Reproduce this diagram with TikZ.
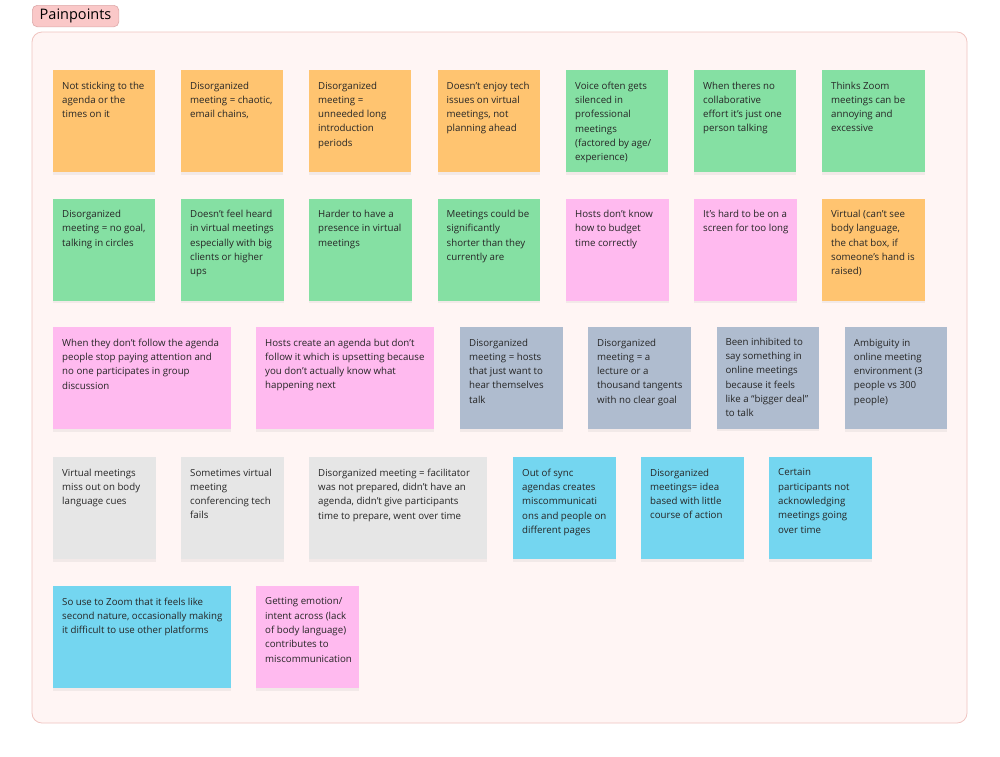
\documentclass[tikz,border=0pt]{standalone}
\usepackage{fontspec}
\setmainfont{Open Sans}
\usetikzlibrary{shadows}
\definecolor{orangeN}{HTML}{FFC470}
\definecolor{greenN}{HTML}{85E0A3}
\definecolor{pinkN}{HTML}{FFBAEF}
\definecolor{slateN}{HTML}{AFBCCF}
\definecolor{grayN}{HTML}{E6E6E6}
\definecolor{cyanN}{HTML}{74D6F0}
\definecolor{frameFill}{HTML}{FFF5F4}
\definecolor{frameLine}{HTML}{F0C4C0}
\definecolor{tagFill}{HTML}{FAC8C8}
\definecolor{tagLine}{HTML}{DDA9A9}
\definecolor{textC}{HTML}{262626}
\newcommand{\sticky}[6]{%
  \node[stickybox, fill=#5, minimum width=#4pt] (#1) at (#2,#3) {};
  \node[stickytext] (#1t) at ([xshift=9pt,yshift=-11.5pt]#1.north west) {#6};}
\begin{document}
\begin{tikzpicture}[x=1pt,y=-1pt,
  stickybox/.style={draw=none, anchor=north west, minimum height=102pt, inner sep=0pt,
    drop shadow={opacity=0.10, shadow xshift=0pt, shadow yshift=-2.5pt}},
  stickytext/.style={anchor=north west, inner sep=0pt, align=left, text=textC,
    font={\fontsize{9.7}{14.3}\selectfont}},
  framebox/.style={draw=frameLine, fill=frameFill, line width=0.8pt, rounded corners=10pt},
  tagbox/.style={draw=tagLine, fill=tagFill, line width=0.6pt, rounded corners=5pt,
    anchor=north west, minimum width=86.5pt, minimum height=21.5pt, inner sep=0pt,
    font={\fontsize{14.5}{16}\selectfont}, text=black}]
\fill[white] (0,0) rectangle (1000,756);
\useasboundingbox (0,0) rectangle (1000,756);
\draw[framebox] (32,32) rectangle (967,723);
\node[tagbox] (title) at (32,5) {Painpoints};
% row 1
\sticky{a1}{53}{70}{102}{orangeN}{Not sticking to the\\agenda or the\\times on it}
\sticky{a2}{181}{70}{102}{orangeN}{Disorganized\\meeting = chaotic,\\email chains,}
\sticky{a3}{309}{70}{102}{orangeN}{Disorganized\\meeting =\\unneeded long\\introduction\\periods}
\sticky{a4}{437.5}{70}{102}{orangeN}{Doesn’t enjoy tech\\issues on virtual\\meetings, not\\planning ahead}
\sticky{a5}{566}{70}{102}{greenN}{Voice often gets\\silenced in\\professional\\meetings\\(factored by age/\\experience)}
\sticky{a6}{694}{70}{102}{greenN}{When theres no\\collaborative\\effort it’s just one\\person talking}
\sticky{a7}{822}{70}{102.5}{greenN}{Thinks Zoom\\meetings can be\\annoying and\\excessive}
% row 2
\sticky{b1}{53}{198.5}{102}{greenN}{Disorganized\\meeting = no goal,\\talking in circles}
\sticky{b2}{181}{198.5}{102.5}{greenN}{Doesn’t feel heard\\in virtual meetings\\especially with big\\clients or higher\\ups}
\sticky{b3}{309}{198.5}{102.5}{greenN}{Harder to have a\\presence in virtual\\meetings}
\sticky{b4}{437.5}{198.5}{102.5}{greenN}{Meetings could be\\significantly\\shorter than they\\currently are}
\sticky{b5}{566}{198.5}{102.5}{pinkN}{Hosts don’t know\\how to budget\\time correctly}
\sticky{b6}{694}{198.5}{102.5}{pinkN}{It’s hard to be on a\\screen for too long}
\sticky{b7}{822}{198.5}{102.5}{orangeN}{Virtual (can’t see\\body language,\\the chat box, if\\someone’s hand is\\raised)}
% row 3
\sticky{c1}{53}{327}{178}{pinkN}{When they don’t follow the agenda\\people stop paying attention and\\no one participates in group\\discussion}
\sticky{c2}{256}{327}{178}{pinkN}{Hosts create an agenda but don’t\\follow it which is upsetting because\\you don’t actually know what\\happening next}
\sticky{c3}{460}{327}{103}{slateN}{Disorganized\\meeting = hosts\\that just want to\\hear themselves\\talk}
\sticky{c4}{588}{327}{102.5}{slateN}{Disorganized\\meeting = a\\lecture or a\\thousand tangents\\with no clear goal}
\sticky{c5}{716.3}{326.3}{102.5}{slateN}{Been inhibited to\\say something in\\online meetings\\because it feels\\like a “bigger deal”\\to talk}
\sticky{c6}{844.7}{327}{102.5}{slateN}{Ambiguity in\\online meeting\\environment (3\\people vs 300\\people)}
% row 4
\sticky{d1}{53}{457}{102.5}{grayN}{Virtual meetings\\miss out on body\\language cues}
\sticky{d2}{181}{457}{102.5}{grayN}{Sometimes virtual\\meeting\\conferencing tech\\fails}
\sticky{d3}{309}{457}{178}{grayN}{Disorganized meeting = facilitator\\was not prepared, didn’t have an\\agenda, didn’t give participants\\time to prepare, went over time}
\sticky{d4}{513}{457}{102.5}{cyanN}{Out of sync\\agendas creates\\miscommunicati\\ons and people on\\different pages}
\sticky{d5}{641}{457}{102.5}{cyanN}{Disorganized\\meetings= idea\\based with little\\course of action}
\sticky{d6}{769}{457}{102.5}{cyanN}{Certain\\participants not\\acknowledging\\meetings going\\over time}
% row 5
\sticky{e1}{53}{586}{178}{cyanN}{So use to Zoom that it feels like\\second nature, occasionally making\\it difficult to use other platforms}
\sticky{e2}{256}{586}{102.5}{pinkN}{Getting emotion/\\intent across (lack\\of body language)\\contributes to\\miscommunication}
\end{tikzpicture}
\end{document}
